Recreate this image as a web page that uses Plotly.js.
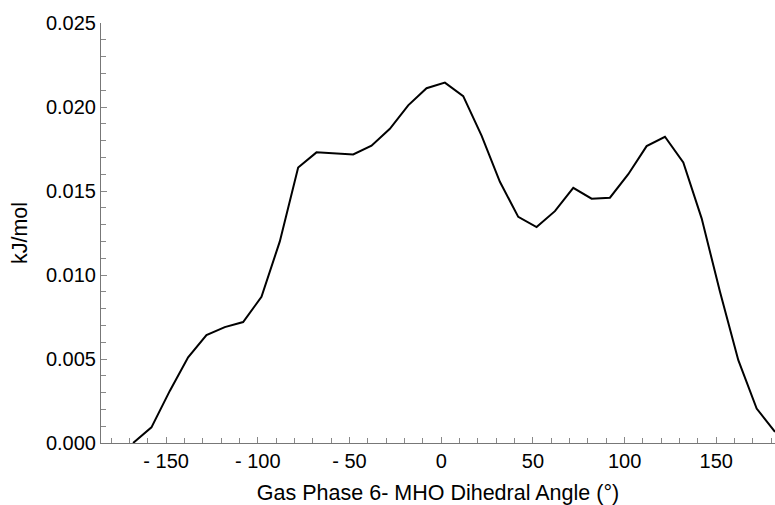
<!DOCTYPE html>
<html>
<head>
<meta charset="utf-8">
<script src="https://cdn.plot.ly/plotly-3.0.1.min.js"></script>
<style>html,body{margin:0;padding:0;background:#fff;}#chart{width:775px;height:505px;}</style>
</head>
<body>
<div id="chart"></div>
<script>
const angles = [-168,-158,-148,-138,-128,-118,-108,-98,-88,-78,-68,-58,-48,-38,-28,-18,-8,2,12,22,32,42,52,62,72,82,92,102,112,122,132,142,152,162,172,182];
const energy = [0.0000,0.00093,0.0031,0.0051,0.00642,0.0069,0.0072,0.0087,0.0120,0.0164,0.0173,0.01725,0.01718,0.0177,0.0187,0.0201,0.02112,0.02145,0.02065,0.0183,0.01555,0.01346,0.01285,0.0138,0.01519,0.01454,0.0146,0.0160,0.01767,0.01823,0.0167,0.01337,0.0090,0.00493,0.00205,0.00066];
const xTickVals = [-150,-100,-50,0,50,100,150];
const xTickText = ["- 150","- 100","- 50","0","50","100","150"];
const xTitle = "Gas Phase 6- MHO Dihedral Angle (°)";
const yTitle = "kJ/mol";

const font = {family: "Liberation Sans, Arial, sans-serif", color: "#000"};
Plotly.newPlot("chart", [{
  x: angles, y: energy, type: "scatter", mode: "lines",
  line: {color: "#000", width: 2}, hoverinfo: "skip"
}], {
  width: 775, height: 505,
  margin: {l: 101, r: 0, t: 23, b: 62},
  paper_bgcolor: "#fff", plot_bgcolor: "#fff",
  showlegend: false,
  xaxis: {
    range: [-185.5, 182], showgrid: false, zeroline: false,
    showline: true, linecolor: "#777", linewidth: 1,
    tickmode: "array", tickvals: xTickVals, ticktext: xTickText,
    ticks: "inside", ticklen: 6, tickcolor: "#888", tickwidth: 1,
    minor: {tickmode: "linear", tick0: 0, dtick: 10, ticks: "inside", ticklen: 5, tickcolor: "#888", tickwidth: 1, showgrid: false},
    tickfont: Object.assign({size: 20}, font),
    title: {text: xTitle, font: Object.assign({size: 21.5}, font), standoff: 15}
  },
  yaxis: {
    range: [0, 0.025], showgrid: false, zeroline: false,
    showline: true, linecolor: "#777", linewidth: 1,
    tickmode: "linear", tick0: 0, dtick: 0.005, tickformat: ".3f",
    ticks: "inside", ticklen: 6, tickcolor: "#888", tickwidth: 1,
    minor: {tickmode: "linear", tick0: 0, dtick: 0.001, ticks: "inside", ticklen: 5, tickcolor: "#888", tickwidth: 1, showgrid: false},
    tickfont: Object.assign({size: 20}, font),
    title: {text: yTitle, font: Object.assign({size: 21.5}, font), standoff: 12}
  }
}, {staticPlot: true, displayModeBar: false});
</script>
</body>
</html>
